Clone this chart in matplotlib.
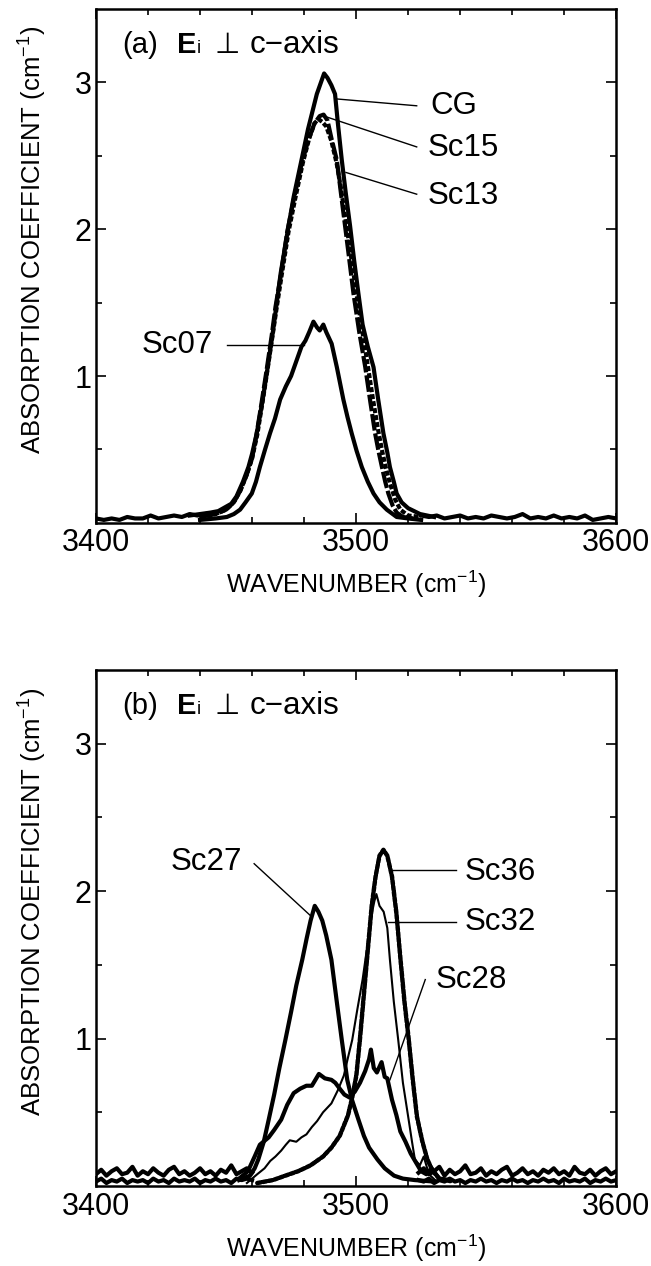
import numpy as np
import matplotlib.pyplot as plt

plt.rcParams['font.family'] = ['Liberation Sans', 'DejaVu Sans']
plt.rcParams['mathtext.fontset'] = 'custom'
plt.rcParams['mathtext.rm'] = 'Liberation Sans'

# ---- panel (a) data ----
base_a_left_x = [3400, 3403, 3406, 3409, 3412, 3415, 3418, 3421, 3424, 3427, 3430, 3433, 3436, 3439, 3442]
base_a_left_y = [0.03, 0.02, 0.03, 0.02, 0.04, 0.03, 0.03, 0.05, 0.03, 0.04, 0.05, 0.04, 0.06, 0.05, 0.06]
base_a_right_x = [3525, 3528, 3531, 3534, 3537, 3540, 3543, 3546, 3549, 3552, 3555, 3558, 3561,
                  3564, 3567, 3570, 3573, 3576, 3579, 3582, 3585, 3588, 3591, 3594, 3597, 3600]
base_a_right_y = [0.05, 0.04, 0.05, 0.03, 0.04, 0.05, 0.03, 0.04, 0.03, 0.05, 0.04, 0.03, 0.04,
                  0.06, 0.03, 0.04, 0.03, 0.05, 0.03, 0.04, 0.03, 0.05, 0.02, 0.03, 0.04, 0.03]

cg_x = [3436, 3440, 3444, 3447, 3450, 3452, 3454, 3456.5, 3458.6, 3460, 3461.8, 3464, 3466, 3468,
        3469.5, 3471, 3474, 3476, 3479, 3481.5, 3484.9, 3486.5, 3487.7, 3489, 3490.5, 3491.9, 3493,
        3494.5, 3496, 3497.7, 3499.3, 3500.9, 3502.5, 3504.5, 3506.7, 3508.5, 3510.5, 3512, 3513,
        3514.5, 3515.6, 3517.5, 3520, 3524.6, 3530]
cg_y = [0.05, 0.06, 0.07, 0.08, 0.11, 0.13, 0.18, 0.28, 0.38, 0.47, 0.61, 0.83, 1.06, 1.3,
        1.5, 1.7, 2.02, 2.22, 2.47, 2.68, 2.92, 3.0, 3.06, 3.03, 2.98, 2.92, 2.72,
        2.47, 2.25, 2.02, 1.78, 1.56, 1.35, 1.2, 1.06, 0.84, 0.61, 0.48, 0.38,
        0.28, 0.2, 0.14, 0.1, 0.06, 0.04]

sc15_x = [3440, 3446, 3450, 3453, 3455.5, 3458, 3460, 3461.5, 3463.5, 3465.5, 3467.5, 3469, 3471,
          3473.5, 3476, 3479, 3481.5, 3484, 3486, 3487.5, 3489, 3490.5, 3492.6, 3494.2, 3495.8,
          3497.4, 3499, 3501.2, 3503.5, 3505.5, 3507.3, 3508.6, 3509.9, 3511.2, 3512.4, 3514,
          3515.6, 3518, 3522]
sc15_y = [0.04, 0.06, 0.09, 0.14, 0.22, 0.33, 0.44, 0.58, 0.8, 1.03, 1.27, 1.47, 1.68,
          1.98, 2.2, 2.44, 2.6, 2.72, 2.77, 2.78, 2.74, 2.62, 2.47, 2.24, 2.016,
          1.79, 1.56, 1.3, 1.063, 0.82, 0.61, 0.49, 0.383, 0.28, 0.2, 0.12,
          0.07, 0.04, 0.03]

sc13_x = [3440, 3446, 3450, 3453, 3455.5, 3458, 3460, 3462, 3464, 3466, 3468, 3469.5, 3471.5,
          3474, 3476.5, 3479.5, 3482, 3484, 3485.5, 3487, 3488.5, 3490.5, 3492.5, 3494, 3496,
          3498, 3500, 3502, 3504.5, 3506.5, 3508.5, 3510, 3511.5, 3513, 3515, 3517, 3520, 3525]
sc13_y = [0.04, 0.06, 0.09, 0.14, 0.22, 0.33, 0.44, 0.6, 0.82, 1.05, 1.29, 1.47, 1.7,
          1.98, 2.2, 2.45, 2.62, 2.72, 2.75, 2.73, 2.7, 2.6, 2.45, 2.3, 2.06,
          1.82, 1.58, 1.35, 1.07, 0.84, 0.63, 0.49, 0.37, 0.27, 0.16, 0.09, 0.05, 0.04]

sc07_x = [3440, 3446, 3450.3, 3453, 3455.4, 3457.5, 3459.9, 3461.5, 3463, 3465, 3466.9, 3468.8,
          3470.8, 3473, 3475, 3477.2, 3479, 3480.5, 3482, 3483.6, 3485, 3486, 3487.4, 3488.5,
          3490.6, 3492.6, 3495.1, 3496.7, 3498.3, 3500.2, 3502.2, 3504.5, 3506.7, 3509, 3511.8,
          3515.6, 3520, 3525]
sc07_y = [0.02, 0.03, 0.04, 0.06, 0.09, 0.14, 0.2, 0.28, 0.38, 0.5, 0.61, 0.71,
          0.84, 0.93, 1.0, 1.11, 1.2, 1.24, 1.3, 1.37, 1.33, 1.31, 1.35, 1.3,
          1.22, 1.06, 0.84, 0.72, 0.61, 0.49, 0.38, 0.28, 0.2, 0.14, 0.09,
          0.04, 0.03, 0.02]

# ---- panel (b) data ----
base_b_left_x = np.arange(3400, 3461, 2)
base_b_left_y1 = [0.08, 0.11, 0.07, 0.1, 0.12, 0.08, 0.09, 0.13, 0.07, 0.1, 0.08, 0.12, 0.09, 0.07,
                  0.11, 0.13, 0.08, 0.1, 0.07, 0.09, 0.12, 0.08, 0.1, 0.07, 0.11, 0.09, 0.14, 0.08,
                  0.1, 0.12, 0.09]
base_b_left_y2 = [0.03, 0.05, 0.02, 0.04, 0.03, 0.05, 0.02, 0.04, 0.03, 0.04, 0.02, 0.05, 0.03, 0.04,
                  0.02, 0.05, 0.03, 0.04, 0.03, 0.05, 0.02, 0.04, 0.03, 0.05, 0.03, 0.04, 0.02, 0.05,
                  0.04, 0.05, 0.04]
base_b_right_x = np.arange(3524, 3601, 2)
base_b_right_y1 = [0.09, 0.12, 0.08, 0.1, 0.13, 0.07, 0.11, 0.08, 0.1, 0.14, 0.08, 0.09, 0.12, 0.07,
                   0.1, 0.08, 0.11, 0.13, 0.07, 0.09, 0.12, 0.08, 0.1, 0.07, 0.11, 0.09, 0.12, 0.08,
                   0.1, 0.07, 0.13, 0.09, 0.08, 0.11, 0.07, 0.1, 0.12, 0.08, 0.1]
base_b_right_y2 = [0.04, 0.03, 0.05, 0.02, 0.04, 0.03, 0.05, 0.03, 0.04, 0.02, 0.04, 0.03, 0.05, 0.03,
                   0.04, 0.02, 0.04, 0.03, 0.05, 0.03, 0.04, 0.02, 0.04, 0.03, 0.05, 0.03, 0.04, 0.02,
                   0.05, 0.03, 0.04, 0.03, 0.05, 0.02, 0.04, 0.03, 0.05, 0.03, 0.04]

sc27_x = [3455, 3459.2, 3461, 3462.4, 3464.5, 3466.4, 3468.5, 3470.5, 3472.8, 3475, 3477,
          3479.3, 3481, 3482.5, 3484.1, 3485.5, 3487, 3488.5, 3490.5, 3492.5, 3494.5, 3496.6,
          3498.5, 3500.9, 3503, 3505, 3508.2, 3511, 3514.6, 3518, 3522.6, 3530]
sc27_y = [0.04, 0.07, 0.12, 0.18, 0.3, 0.45, 0.62, 0.8, 0.99, 1.18, 1.36,
          1.535, 1.68, 1.8, 1.9, 1.86, 1.8, 1.7, 1.535, 1.26, 0.99, 0.72,
          0.58, 0.45, 0.34, 0.26, 0.18, 0.12, 0.07, 0.05, 0.04, 0.03]

sc36_x = [3462, 3468, 3472.8, 3477.7, 3482.5, 3487.3, 3490.5, 3493.7, 3496.9, 3498.5, 3500.1,
          3501.5, 3503, 3504.5, 3506, 3507.5, 3509, 3510.5, 3512, 3513.8, 3515.5, 3517, 3518.6,
          3520.2, 3521.8, 3523.4, 3525.5, 3527.4, 3529.5, 3532, 3537]
sc36_y = [0.02, 0.04, 0.07, 0.1, 0.14, 0.2, 0.26, 0.34, 0.48, 0.6, 0.75,
          1.0, 1.3, 1.6, 1.9, 2.1, 2.24, 2.28, 2.24, 2.1, 1.85, 1.55, 1.25,
          1.0, 0.72, 0.47, 0.3, 0.18, 0.1, 0.05, 0.03]

sc32_x = [3458, 3460, 3462, 3464.8, 3467, 3469, 3471.2, 3473, 3474.5, 3477, 3479, 3480.9, 3483,
          3485, 3487.3, 3490.5, 3493, 3495.3, 3497, 3498.5, 3500.5, 3502.5, 3504.1, 3505.5, 3507,
          3507.8, 3509, 3510.6, 3512, 3513, 3514.5, 3516.2, 3518, 3520.2, 3521.5, 3522.6, 3524.5,
          3526, 3528, 3531]
sc32_y = [0.02, 0.05, 0.08, 0.12, 0.17, 0.2, 0.24, 0.28, 0.31, 0.3, 0.33, 0.35, 0.4,
          0.44, 0.5, 0.56, 0.65, 0.75, 0.88, 0.99, 1.2, 1.4, 1.6, 1.8, 1.93,
          1.98, 1.9, 1.86, 1.75, 1.535, 1.25, 0.99, 0.7, 0.45, 0.3, 0.18, 0.14,
          0.2, 0.08, 0.03]

sc28_x = [3455, 3458.4, 3461, 3463, 3466.4, 3468.5, 3471.2, 3473.5, 3476, 3478.5, 3480.9, 3483,
          3485.7, 3488, 3490.5, 3492, 3493.7, 3495.5, 3497.5, 3499.5, 3501.5, 3503.5, 3505,
          3505.7, 3506.8, 3508, 3509.8, 3511, 3512, 3513.8, 3515.5, 3517, 3519, 3521, 3523,
          3525, 3527, 3529, 3532, 3536]
sc28_y = [0.05, 0.1, 0.2, 0.28, 0.33, 0.38, 0.45, 0.55, 0.63, 0.66, 0.68, 0.68,
          0.76, 0.73, 0.72, 0.7, 0.66, 0.62, 0.6, 0.64, 0.7, 0.78, 0.86,
          0.925, 0.8, 0.77, 0.84, 0.74, 0.73, 0.585, 0.48, 0.37, 0.3, 0.22, 0.16,
          0.1, 0.08, 0.12, 0.05, 0.04]

x_ticks = [3400, 3500, 3600]
y_ticks = [1, 2, 3]

fig = plt.figure(figsize=(6.51, 12.66), dpi=100)
ax_a = fig.add_axes([0.1475, 0.587, 0.799, 0.406])
ax_b = fig.add_axes([0.1475, 0.0632, 0.799, 0.4076])


def style_axes(ax):
    ax.set_xlim(3400, 3600)
    ax.set_ylim(0, 3.5)
    ax.set_xticks(x_ticks)
    ax.set_xticks(np.arange(3420, 3600, 20), minor=True)
    ax.set_yticks(y_ticks)
    ax.set_yticks([0.5, 1.5, 2.5], minor=True)
    ax.tick_params(which='both', direction='in', top=True, right=True, width=1.2)
    ax.tick_params(which='major', length=7, labelsize=22)
    ax.tick_params(which='minor', length=4)
    ax.tick_params(axis='x', pad=4)
    ax.tick_params(axis='y', pad=3)
    for s in ax.spines.values():
        s.set_linewidth(1.8)
    ax.set_xlabel('WAVENUMBER (cm$^{-1}$)', fontsize=18)
    ax.set_ylabel('ABSORPTION COEFFICIENT (cm$^{-1}$)', fontsize=18.5)
    ax.xaxis.set_label_coords(0.5, -0.12)
    ax.xaxis.label.set_va('center')
    ax.yaxis.set_label_coords(-0.123, 0.55)
    ax.yaxis.label.set_va('center')


def panel_title(ax, tag):
    y = 0.914
    kw = dict(xy=(0.05, y), xycoords='axes fraction', textcoords='offset pixels', va='baseline')
    ax.annotate(tag, xytext=(0, 0), fontsize=21, **kw)
    ax.annotate('E', xytext=(55, 0), fontsize=21, fontweight='bold', **kw)
    ax.annotate('i', xytext=(75, 0), fontsize=13, **kw)
    ax.annotate('\u22a5', xytext=(92, 0), fontsize=21, family='DejaVu Sans', **kw)
    ax.annotate('c\u2212axis', xytext=(128, 0), fontsize=22.5, **kw)


# panel (a)
lw = 3.0
fs = 22.5
ax_a.plot(base_a_left_x, base_a_left_y, color='black', lw=lw)
ax_a.plot(base_a_right_x, base_a_right_y, color='black', lw=lw)
ax_a.plot(cg_x, cg_y, color='black', lw=lw)
ax_a.plot(sc15_x, sc15_y, color='black', lw=lw, linestyle=(0, (4, 0.7)))
ax_a.plot(sc13_x, sc13_y, color='black', lw=lw, linestyle=(0, (1.2, 0.5)))
ax_a.plot(sc07_x, sc07_y, color='black', lw=lw)
style_axes(ax_a)
panel_title(ax_a, '(a)')

ax_a.plot([3492.9, 3523.3], [2.886, 2.84], color='black', lw=1.0)
ax_a.text(3528.5, 2.84, 'CG', fontsize=fs, va='center')
ax_a.plot([3488.5, 3523.3], [2.765, 2.56], color='black', lw=1.0)
ax_a.text(3527.5, 2.55, 'Sc15', fontsize=fs, va='center')
ax_a.plot([3496.1, 3523.3], [2.386, 2.238], color='black', lw=1.0)
ax_a.text(3527.5, 2.224, 'Sc13', fontsize=fs, va='center')
ax_a.plot([3450.4, 3480], [1.211, 1.211], color='black', lw=1.0)
ax_a.text(3417.6, 1.211, 'Sc07', fontsize=fs, va='center')

# panel (b)
ax_b.plot(base_b_left_x, base_b_left_y1, color='black', lw=lw)
ax_b.plot(base_b_left_x, base_b_left_y2, color='black', lw=lw)
ax_b.plot(base_b_right_x, base_b_right_y1, color='black', lw=lw)
ax_b.plot(base_b_right_x, base_b_right_y2, color='black', lw=lw)
ax_b.plot(sc27_x, sc27_y, color='black', lw=lw)
ax_b.plot(sc36_x, sc36_y, color='black', lw=3.2, linestyle=(0, (0.8, 0.5)),
          dash_capstyle='round')
ax_b.plot(sc32_x, sc32_y, color='black', lw=1.5)
ax_b.plot(sc28_x, sc28_y, color='black', lw=lw)
style_axes(ax_b)
panel_title(ax_b, '(b)')

ax_b.plot([3460.8, 3482.5], [2.186, 1.833], color='black', lw=1.0)
ax_b.text(3428.7, 2.2, 'Sc27', fontsize=fs, va='center')
ax_b.plot([3513.8, 3538.6], [2.145, 2.145], color='black', lw=1.0)
ax_b.text(3541.8, 2.13, 'Sc36', fontsize=fs, va='center')
ax_b.plot([3512.2, 3538.6], [1.79, 1.79], color='black', lw=1.0)
ax_b.text(3541.8, 1.79, 'Sc32', fontsize=fs, va='center')
ax_b.plot([3513, 3526.6], [0.72, 1.40], color='black', lw=1.0)
ax_b.text(3530.6, 1.40, 'Sc28', fontsize=fs, va='center')

fig.savefig('out.png', dpi=100)
